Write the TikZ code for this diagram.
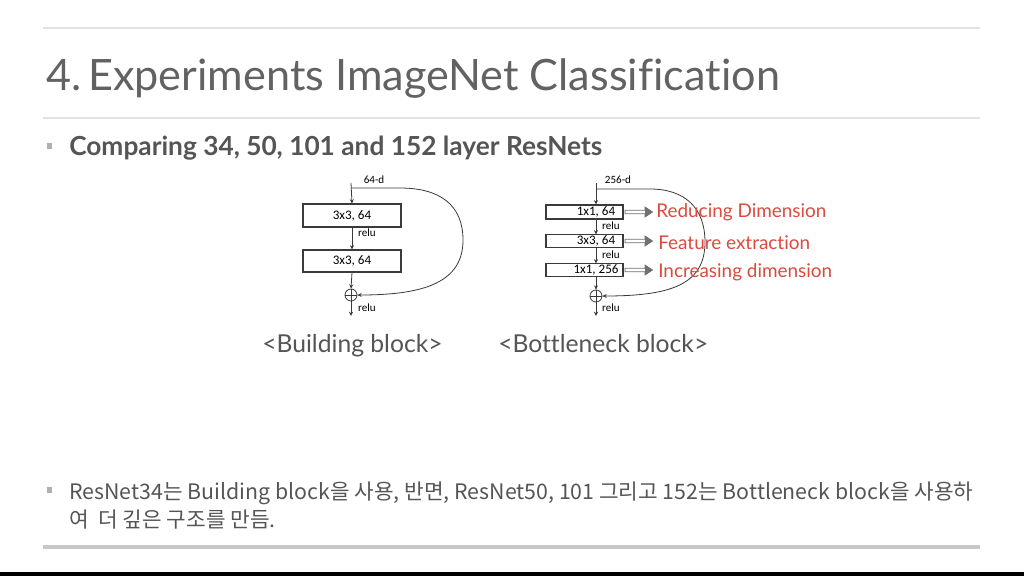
\documentclass[tikz,border=0pt]{standalone}
\usepackage{fontspec}
\setmainfont{Lato}[Ligatures=NoCommon]
\newfontfamily\cjk{Noto Sans CJK KR}
\newfontfamily\diag{Carlito}
\usetikzlibrary{arrows.meta}
\definecolor{titlegray}{HTML}{626262}
\definecolor{textgray}{HTML}{555555}
\definecolor{rulegray}{HTML}{E2E2E2}
\definecolor{bulletgray}{HTML}{B0B0B0}
\definecolor{linedark}{HTML}{3A3A3A}
\definecolor{labred}{HTML}{DC4A3E}
\definecolor{arrgray}{HTML}{707070}
\tikzset{
  blk/.style={draw=linedark, line width=0.8pt, fill=white, inner sep=0pt},
  small/.style={font=\diag\fontsize{9.8}{10}\selectfont, text=black, inner sep=0pt},
  tiny/.style={font=\diag\fontsize{8.3}{9}\selectfont, text=black, inner sep=0pt},
  flow/.style={draw=linedark, line width=0.6pt, -{Stealth[length=3.2pt,width=3pt]}},
  addc/.style={circle, draw=linedark, line width=0.6pt, minimum size=9pt, inner sep=0pt},
  redlab/.style={font=\fontsize{14.2}{15}\selectfont, text=labred, anchor=base west, inner sep=0pt},
  caption/.style={font=\fontsize{18.5}{20}\selectfont, text=textgray, anchor=base west, inner sep=0pt},
  bulletsq/.style={fill=bulletgray, draw=none, minimum size=4pt, inner sep=0pt},
  fatarrow/.style={draw=arrgray, line width=0.55pt, fill=white}
}
\begin{document}
\begin{tikzpicture}[x=0.75pt, y=-0.75pt]
\useasboundingbox (0,0) rectangle (1024,576);
\fill[white] (0,0) rectangle (1024,576);
% rules
\draw[rulegray, line width=1.2pt] (43,28) -- (980,28);
\draw[rulegray, line width=1.2pt] (43,118) -- (980,118);
\draw[line width=2.4pt, draw={rgb,255:red,200;green,200;blue,200}] (43,547) -- (980,547);
\fill[black] (0,572) rectangle (1024,576);
% title
\node[anchor=base west, inner sep=0pt, text=titlegray, font=\fontsize{32.4}{34}\selectfont] (title) at (46,90) {4.\kern-0.1em\ Experiments ImageNet Classification};
% bullet 1
\node[bulletsq] (bul1) at (49.5,146) {};
\node[anchor=base west, inner sep=0pt, text=textgray, font=\bfseries\fontsize{19.7}{21}\selectfont] (sub) at (69,155) {Comparing 34, 50, 101 and 152 layer ResNets};

% ---------- Building block ----------
\coordinate (in1) at (351,183);
\coordinate (sp1) at (351,188);
\node[blk, minimum width=98*0.75pt, minimum height=23*0.75pt] (b1) at (352,215.5) {};
\node[small] (b1t) at (352,215.5) {3x3, 64};
\node[blk, minimum width=98*0.75pt, minimum height=22*0.75pt] (b2) at (352,261) {};
\node[small] (b2t) at (352,261) {3x3, 64};
\node[addc] (add1) at (351,295) {};
\draw[linedark, line width=0.6pt] (add1.north) -- (add1.south) (add1.west) -- (add1.east);
\coordinate (out1) at (351,316);
\node[tiny] (d1) at (374,180) {64-d};
\node[tiny] (r11) at (367,233) {relu};
\node[tiny] (r12) at (367,308) {relu};
\draw[flow] (in1) -- (b1.north);
\draw[flow] (b1.south) -- (b2.north);
\draw[flow] (b2.south) -- (add1.north);
\draw[flow] (add1.south) -- (out1);
\coordinate (k1) at (400,188);
\coordinate (m1) at (463,240);
\draw[flow] (sp1) -- (k1) .. controls (440,188) and (463,205) .. (m1) .. controls (463,282) and (425,295) .. (add1.east);

% ---------- Bottleneck block ----------
\coordinate (in2) at (596,183);
\coordinate (sp2) at (596,189);
\node[blk, minimum width=77*0.75pt, minimum height=14*0.75pt] (c1) at (584.5,212) {};
\node[small] (c1t) at (596,212) {1x1, 64};
\node[blk, minimum width=77*0.75pt, minimum height=13*0.75pt] (c2) at (584.5,241) {};
\node[small] (c2t) at (596,241) {3x3, 64};
\node[blk, minimum width=77*0.75pt, minimum height=13*0.75pt] (c3) at (584.5,270) {};
\node[small] (c3t) at (596,270) {1x1, 256};
\node[addc] (add2) at (596,296) {};
\draw[linedark, line width=0.6pt] (add2.north) -- (add2.south) (add2.west) -- (add2.east);
\coordinate (out2) at (596,316);
\node[tiny] (d2) at (618,180) {256-d};
\node[tiny] (r21) at (611,226) {relu};
\node[tiny] (r22) at (611,255) {relu};
\node[tiny] (r23) at (611,308) {relu};
\draw[flow] (in2) -- (in2 |- c1.north);
\draw[flow] (596,219) -- (596,234.5);
\draw[flow] (596,247.5) -- (596,263.5);
\draw[flow] (596,276.5) -- (add2.north);
\draw[flow] (add2.south) -- (out2);
\coordinate (k2) at (650,189);
\coordinate (m2) at (705,242);
\draw[flow] (sp2) -- (k2) .. controls (685,189) and (705,208) .. (m2) .. controls (705,285) and (670,296) .. (add2.east);

% gray hollow arrows
\foreach \yy/\nm in {212/a1,241/a2,270/a3}{
  \draw[fatarrow] (625,\yy-1.8) -- (645,\yy-1.8) -- (645,\yy-5) -- (652.5,\yy) -- (645,\yy+5) -- (645,\yy+1.8) -- (625,\yy+1.8) -- cycle;
  \fill[arrgray] (645,\yy-5) -- (652.5,\yy) -- (645,\yy+5) -- cycle;
}
\node[redlab] (l1) at (656,217.5) {Reducing Dimension};
\node[redlab] (l2) at (658,249) {Feature extraction};
\node[redlab] (l3) at (658,277) {Increasing dimension};

% captions
\node[caption] (cap1) at (262,352) {<Building block>};
\node[caption] (cap2) at (498,352.5) {<Bottleneck block>};

% bullet 2
\node[bulletsq] (bul2) at (49.5,490) {};
\node[anchor=base west, inner sep=0pt, text=textgray, font=\cjk\fontsize{16}{18}\selectfont] (txt1) at (69,499) {ResNet34는 Building block을 사용, 반면, ResNet50, 101 그리고 152는 Bottleneck block을 사용하};
\node[anchor=base west, inner sep=0pt, text=textgray, font=\cjk\fontsize{16}{18}\selectfont] (txt2) at (69,527) {여\ \ 더 깊은 구조를 만듬.};
\end{tikzpicture}
\end{document}
